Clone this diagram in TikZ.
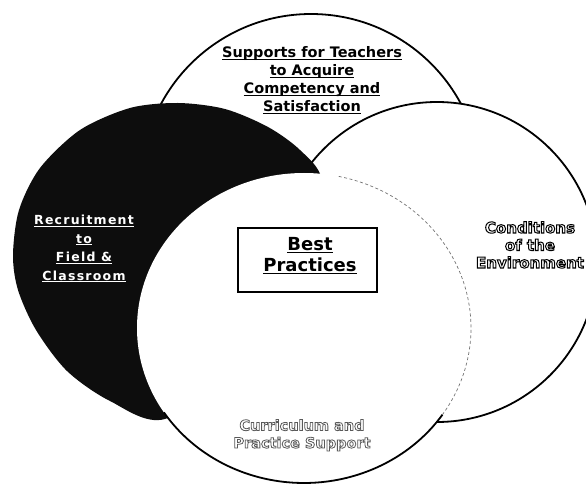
\documentclass[tikz,border=0pt]{standalone}
\usepackage{fontspec}
\setmainfont{DejaVu Sans}
\newfontfamily\djb{DejaVu Sans}
\newfontfamily\djbsp{DejaVu Sans}[LetterSpace=10]
\newcommand\myul[1]{\setbox0\hbox{#1}\rlap{\rule[-2.4pt]{\wd0}{1.3pt}}\box0}
\newcommand\outl[1]{{\special{pdf:literal direct 2 Tr 1.0 w 0 G 1 g}#1\special{pdf:literal direct 0 Tr}}}
\newcommand\outg[1]{{\special{pdf:literal direct 2 Tr 0.8 w 0.35 G 1 g}#1\special{pdf:literal direct 0 Tr}}}
\tikzset{
  ring/.style={draw=black, fill=white, line width=1.8pt},
  toptext/.style={font=\djb\bfseries\fontsize{14.5}{18}\selectfont, align=center, inner sep=0pt},
  recr/.style={font=\djbsp\bfseries\fontsize{12.5}{18.5}\selectfont, text=white, align=center, inner sep=0pt},
  bestbox/.style={draw=black, fill=white, line width=1.1pt, minimum width=139pt, minimum height=64pt, inner sep=0pt},
  besttext/.style={font=\djb\bfseries\fontsize{18}{21}\selectfont, align=center, inner sep=0pt},
  condtext/.style={font=\djb\bfseries\fontsize{15}{17.5}\selectfont, align=center, inner sep=0pt},
  currtext/.style={font=\djb\bfseries\fontsize{14.5}{17.5}\selectfont, align=center, inner sep=0pt}
}
\begin{document}
\begin{tikzpicture}[x=1pt,y=-1pt]
\useasboundingbox (0,0) rectangle (586,486);
\fill[white] (0,0) rectangle (586,486);
% top circle
\draw[ring] (311,184) circle[radius=170pt];
% right circle
\draw[ring] (437,262) circle[radius=160pt];
% dark circle
\fill[black!95] plot[smooth cycle] coordinates {(165,419) (110,401) (67,371) (36,330) (18,290) (13,255) (19,210) (40,168) (80,130) (130,108) (178,103) (225,109) (268,127) (300,150) (322,180) (320,250) (250,360)};
% bottom circle
\fill[white] (304,328) ellipse[x radius=167pt, y radius=155pt];
\draw[line width=1.8pt] plot[domain=34:147,samples=80] ({304+167*cos(\x)},{328+155*sin(\x)});
\draw[black!55, line width=0.7pt, dash pattern=on 3pt off 2.5pt] plot[domain=-78:34,samples=80] ({304+167*cos(\x)},{328+155*sin(\x)});
% texts
\node[toptext, anchor=base] (sup) at (312,112) {\myul{Supports for Teachers}\\\myul{to Acquire}\\\myul{Competency and}\\\myul{Satisfaction}};
\node[recr, anchor=base] (rec) at (84,280) {\myul{Recruitment}\\\myul{to}\\\myul{Field \&}\\\myul{Classroom}};
\node[bestbox] (box) at (307.5,260) {};
\node[besttext, anchor=base] (best) at (310,272) {\myul{Best}\\\myul{Practices}};
\node[condtext, anchor=base] (cond) at (530,268) {\outl{Conditions}\\\outl{of the}\\\outl{Environment}};
\node[currtext, anchor=base] (curr) at (302,448) {\outg{Curriculum and}\\\outg{Practice Support}};
\end{tikzpicture}
\end{document}
